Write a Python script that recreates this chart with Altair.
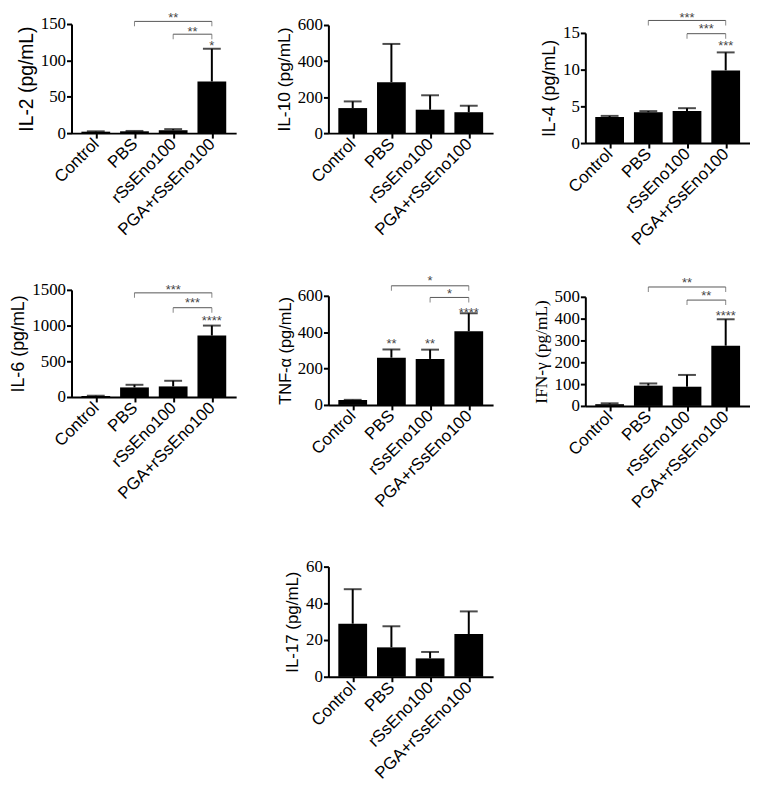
import json
import altair as alt
import pandas as pd

groups = ["Control", "PBS", "rSsEno100", "PGA+rSsEno100"]
group_idx = [0, 1, 2, 3]

# mean and SD per cytokine (order follows groups)
il2_mean = [2, 2.5, 4, 71]
il2_sd = [0.5, 0.5, 1.5, 45]
il10_mean = [139, 283, 130, 116]
il10_sd = [37, 212, 80, 36]
il4_mean = [3.55, 4.2, 4.35, 9.9]
il4_sd = [0.15, 0.15, 0.4, 2.45]
il6_mean = [14, 134, 148, 860]
il6_sd = [4, 37, 79, 140]
tnf_mean = [27, 260, 253, 405]
tnf_sd = [1, 45, 51, 99]
ifn_mean = [8, 93, 88, 276]
ifn_sd = [4, 10, 54, 121]
il17_mean = [28.9, 16, 10, 23.3]
il17_sd = [18.8, 11.5, 3.5, 12.3]

# significance brackets: (from group, to group, bracket value, star value, stars)
il2_brackets = [(1, 3, 153.6, 162.7, "**"), (2, 3, 136, 143.6, "**")]
il4_brackets = [(1, 3, 16.7, 17.5, "***"), (2, 3, 14.9, 15.9, "***")]
il6_brackets = [(1, 3, 1458, 1536, "***"), (2, 3, 1250, 1361, "***")]
tnf_brackets = [(1, 3, 655, 697, "*"), (2, 3, 591, 627, "*")]
ifn_brackets = [(1, 3, 545, 579, "**"), (2, 3, 485, 518, "**")]

# stars above bars: (group, value, stars)
il2_marks = [(3, 124, "*")]
il4_marks = [(3, 13.6, "***")]
il6_marks = [(3, 1111, "****")]
tnf_marks = [(1, 349, "**"), (2, 349, "**"), (3, 524, "****")]
ifn_marks = [(3, 427, "****")]

panels = [
    dict(title="IL-2 (pg/mL)", tfont="Liberation Sans", tsize=19.5, mean=il2_mean, sd=il2_sd,
         ticks=[0, 50, 100, 150], h=110, off=0, brackets=il2_brackets, marks=il2_marks),
    dict(title="IL-10 (pg/mL)", tfont="Liberation Sans", tsize=17.5, mean=il10_mean, sd=il10_sd,
         ticks=[0, 200, 400, 600], h=109, off=1, brackets=[], marks=[]),
    dict(title="IL-4 (pg/mL)", tfont="Liberation Sans", tsize=18, mean=il4_mean, sd=il4_sd,
         ticks=[0, 5, 10, 15], h=111, off=9, brackets=il4_brackets, marks=il4_marks),
    dict(title="IL-6 (pg/mL)", tfont="Liberation Sans", tsize=18, mean=il6_mean, sd=il6_sd,
         ticks=[0, 500, 1000, 1500], h=108, off=0, brackets=il6_brackets, marks=il6_marks),
    dict(title="TNF-α (pg/mL)", tfont="Liberation Sans", tsize=16.5, mean=tnf_mean, sd=tnf_sd,
         ticks=[0, 200, 400, 600], h=110, off=6, brackets=tnf_brackets, marks=tnf_marks),
    dict(title="IFN-γ (pg/mL)", tfont="Liberation Serif", tsize=17.5, mean=ifn_mean, sd=ifn_sd,
         ticks=[0, 100, 200, 300, 400, 500], h=110, off=7, brackets=ifn_brackets, marks=ifn_marks),
    dict(title="IL-17 (pg/mL)", tfont="Liberation Sans", tsize=17, mean=il17_mean, sd=il17_sd,
         ticks=[0, 20, 40, 60], h=111, off=14, brackets=[], marks=[]),
]

W = 166
label_expr = json.dumps(groups) + "[datum.value]"


def make_panel(p):
    df = pd.DataFrame({"idx": group_idx, "mean": p["mean"], "sd": p["sd"]})
    df["upper"] = df["mean"] + df["sd"]
    ymax = p["ticks"][-1]
    h, off = p["h"], p["off"]
    yscale = alt.Scale(domain=[0, ymax], range=[off + h, off], nice=False, zero=False)
    xscale = alt.Scale(domain=[-0.5, 3.5], nice=False, zero=False)
    xaxis = alt.Axis(values=group_idx, labelExpr=label_expr, labelAngle=-45,
                     labelAlign="right", labelBaseline="middle",
                     labelFont="Liberation Sans", labelFontSize=17, labelColor="black",
                     labelFlush=False, labelOverlap=False, labelPadding=3,
                     tickSize=5, tickWidth=2, tickColor="black",
                     domainColor="black", domainWidth=2, grid=False, title=None)
    yaxis = alt.Axis(values=p["ticks"], format="d", title=p["title"],
                     titleFont=p["tfont"], titleFontSize=p["tsize"], titleFontWeight="normal",
                     titleColor="black", titlePadding=4,
                     labelFont="Liberation Serif", labelFontSize=17, labelColor="black",
                     labelFlush=False, labelOverlap=False, labelPadding=1,
                     tickSize=5, tickWidth=2, tickColor="black",
                     domainColor="black", domainWidth=2, grid=False)

    def X(f):
        return alt.X(f, scale=xscale, axis=xaxis)

    def Y(f):
        return alt.Y(f, scale=yscale, axis=yaxis)

    base = alt.Chart(df)
    bars = base.mark_bar(size=29, color="black").encode(x=X("idx:Q"), y=Y("mean:Q"))
    err = base.mark_rule(color="black", strokeWidth=2).encode(
        x=X("idx:Q"), y=Y("mean:Q"), y2="upper:Q"
    )
    cap = base.mark_tick(color="black", orient="horizontal", size=18, thickness=2).encode(
        x=X("idx:Q"), y=Y("upper:Q")
    )
    layers = [bars, err, cap]
    if p["brackets"]:
        bdf = pd.DataFrame(p["brackets"], columns=["x1", "x2", "by", "sy", "stars"])
        bb = alt.Chart(bdf)
        line = bb.mark_rule(color="#555555", strokeWidth=1).encode(
            x=X("x1:Q"), x2="x2:Q", y=Y("by:Q")
        )
        ends = bb.transform_fold(["x1", "x2"], as_=["end", "xe"]).mark_tick(
            color="#555555", orient="vertical", size=5, thickness=1, yOffset=2.5
        ).encode(x=X("xe:Q"), y=Y("by:Q"))
        stars = bb.transform_calculate(mid="(datum.x1 + datum.x2) / 2").mark_text(
            font="Liberation Sans", fontSize=13, color="#444444", baseline="middle", dy=3
        ).encode(x=X("mid:Q"), y=Y("sy:Q"), text="stars:N")
        layers += [line, ends, stars]
    if p["marks"]:
        mdf = pd.DataFrame(p["marks"], columns=["mx", "my", "stars"])
        mk = alt.Chart(mdf).mark_text(
            font="Liberation Sans", fontSize=13, color="#444444", baseline="middle", dy=3
        ).encode(x=X("mx:Q"), y=Y("my:Q"), text="stars:N")
        layers.append(mk)
    return alt.layer(*layers).properties(width=W, height=off + h)


charts = [make_panel(p) for p in panels]

blank = alt.Chart(pd.DataFrame({"v": [0]})).mark_point(opacity=0).encode(
    x=alt.X("v:Q", axis=None), y=alt.Y("v:Q", axis=None)
).properties(width=W, height=110)

cells = charts[:6] + [blank, charts[6]]

chart = alt.concat(
    *cells, columns=3, spacing={"row": 148, "column": 93}, bounds="flush", align="each"
).properties(
    padding={"left": 2, "top": 0, "right": 0, "bottom": 0},
    background="white",
).configure_view(stroke=None)

chart.save("out.html", embed_options={"renderer": "svg", "actions": False})
